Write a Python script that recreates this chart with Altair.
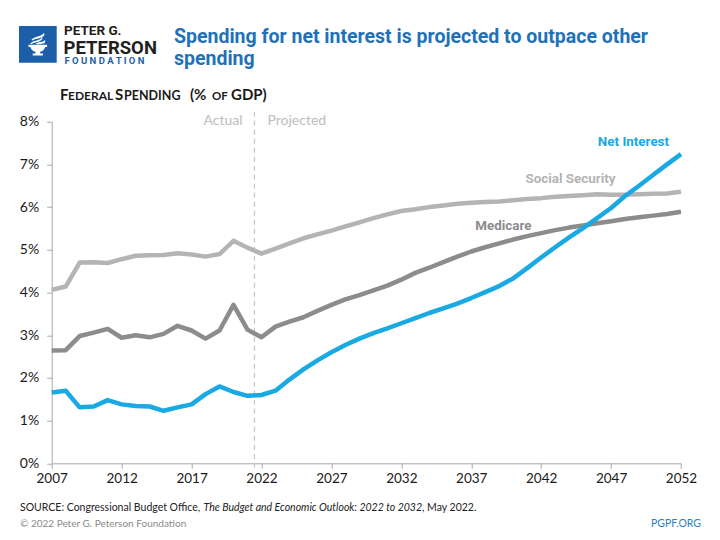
import altair as alt
import pandas as pd

# ---------------- data ----------------
years = list(range(2007, 2053))

social_security = [4.06, 4.14, 4.70, 4.71, 4.69, 4.78, 4.86, 4.87, 4.88, 4.92,
                   4.89, 4.84, 4.90, 5.21, 5.05, 4.91, 5.03, 5.15, 5.27, 5.36,
                   5.45, 5.55, 5.64, 5.74, 5.83, 5.91, 5.95, 6.00, 6.04, 6.08,
                   6.10, 6.12, 6.13, 6.16, 6.19, 6.21, 6.24, 6.26, 6.28, 6.30,
                   6.29, 6.29, 6.30, 6.31, 6.32, 6.36]

medicare = [2.64, 2.65, 2.98, 3.06, 3.15, 2.94, 3.00, 2.95, 3.03, 3.22,
            3.11, 2.92, 3.11, 3.71, 3.13, 2.95, 3.20, 3.32, 3.42, 3.57,
            3.71, 3.84, 3.94, 4.05, 4.16, 4.30, 4.46, 4.58, 4.71, 4.84,
            4.96, 5.06, 5.15, 5.24, 5.32, 5.39, 5.46, 5.52, 5.57, 5.62,
            5.67, 5.72, 5.76, 5.80, 5.84, 5.89]

net_interest = [1.66, 1.70, 1.31, 1.33, 1.48, 1.38, 1.34, 1.33, 1.23, 1.31,
                1.38, 1.62, 1.80, 1.67, 1.58, 1.60, 1.70, 1.96, 2.20, 2.41,
                2.60, 2.77, 2.92, 3.05, 3.16, 3.28, 3.40, 3.52, 3.63, 3.74,
                3.87, 4.01, 4.15, 4.33, 4.57, 4.82, 5.06, 5.29, 5.51, 5.74,
                5.98, 6.26, 6.50, 6.75, 7.00, 7.24]

series_names = ["Social Security", "Medicare", "Net Interest"]
series_colors = ["#b4b4b4", "#8c8c8c", "#19a9e3"]
label_colors = ["#a8a8a8", "#808080", "#19a6df"]

y_ticks = [0, 1, 2, 3, 4, 5, 6, 7, 8]
x_ticks = [2007, 2012, 2017, 2022, 2027, 2032, 2037, 2042, 2047, 2052]

boundary_year = [2021.5]

label_years = [2044.1, 2039.3, 2048.6]
label_values = [6.66, 5.56, 7.52]

# ---------------- frames ----------------
rows = []
for name, vals in zip(series_names, [social_security, medicare, net_interest]):
    for yr, v in zip(years, vals):
        rows.append({"year": yr, "series": name, "value": v})
df = pd.DataFrame(rows)

labels_df = pd.DataFrame({"year": label_years, "value": label_values,
                          "series": series_names})
boundary_df = pd.DataFrame({"year": boundary_year})
one = pd.DataFrame({"k": [0]})

W, H = 629.3, 341.6
OX, OY = 51.7, 121.7  # plot origin on page

BASE_FONT = "Lato"
HEAD_FONT = "Roboto"

x_scale = alt.Scale(domain=[2007, 2052], nice=False, zero=False)
y_scale = alt.Scale(domain=[0, 8], nice=False)
color_scale = alt.Scale(domain=series_names, range=series_colors)

x_enc = alt.X("year:Q", scale=x_scale,
              axis=alt.Axis(values=x_ticks, format="d", title=None, grid=False,
                            labelFontSize=13.5, labelColor="#1a1a1a", labelFont=BASE_FONT,
                            tickSize=5, tickColor="#a8a8a8", domainColor="#a8a8a8",
                            labelPadding=3, labelFlush=False))
y_enc = alt.Y("value:Q", scale=y_scale,
              axis=alt.Axis(values=y_ticks, title=None, grid=False,
                            labelExpr="datum.value + '%'",
                            labelFontSize=14, labelColor="#1a1a1a", labelFont=BASE_FONT,
                            tickSize=5, tickColor="#a8a8a8", domainColor="#a8a8a8",
                            labelPadding=8))

lines = alt.Chart(df).mark_line(strokeWidth=4.5, strokeJoin="round").encode(
    x=x_enc, y=y_enc,
    color=alt.Color("series:N", scale=color_scale, legend=None),
    order=alt.Order("year:Q"),
)

divider = alt.Chart(boundary_df).mark_rule(color="#c4c4c4", strokeWidth=1.2,
                                           strokeDash=[5, 4]).encode(
    x=alt.X("year:Q", scale=x_scale),
    y=alt.value(-10), y2=alt.value(H + 5),
)

actual_txt = alt.Chart(boundary_df).mark_text(
    text="Actual", align="right", baseline="middle", dx=-12, fontSize=14,
    font=BASE_FONT, color="#bdbdbd").encode(
    x=alt.X("year:Q", scale=x_scale), y=alt.value(-1))
proj_txt = alt.Chart(boundary_df).mark_text(
    text="Projected", align="left", baseline="middle", dx=13, fontSize=14,
    font=BASE_FONT, color="#bdbdbd").encode(
    x=alt.X("year:Q", scale=x_scale), y=alt.value(-1))

series_labels = alt.Chart(labels_df).mark_text(
    fontSize=13.4, fontWeight="bold", font=HEAD_FONT, baseline="middle",
    align="center").encode(
    x=alt.X("year:Q", scale=x_scale),
    y=alt.Y("value:Q", scale=y_scale),
    text="series:N",
    color=alt.Color("series:N", scale=alt.Scale(domain=series_names, range=label_colors),
                    legend=None),
)


def txt(s, px, py, size, color="#1a1a1a", weight="normal", font=BASE_FONT,
        align="left", style="normal", baseline="alphabetic"):
    return alt.Chart(one).mark_text(
        text=s, fontSize=size, fontWeight=weight, font=font, color=color,
        align=align, baseline=baseline, fontStyle=style).encode(
        x=alt.value(px - OX), y=alt.value(py - OY))


def glyph(path, px, py, size, color):
    return alt.Chart(one).mark_point(
        shape=path, filled=True, fill=color, opacity=1,
        size=size).encode(x=alt.value(px - OX), y=alt.value(py - OY))


# ---------------- logo ----------------
logo_blue = "#1d5ea9"
logo_box = alt.Chart(one).mark_rect(color=logo_blue).encode(
    x=alt.value(19 - OX), x2=alt.value(56.7 - OX),
    y=alt.value(26 - OY), y2=alt.value(62.7 - OY))

torch_cup = ("M -0.62 0.02 L 0.62 0.02 L 0.62 0.16 L 0.5 0.16 "
             "C 0.42 0.36 0.3 0.46 0.16 0.48 L 0.16 0.6 L 0.34 0.6 L 0.34 0.74 "
             "L -0.34 0.74 L -0.34 0.6 L -0.16 0.6 L -0.16 0.48 "
             "C -0.3 0.46 -0.42 0.36 -0.5 0.16 L -0.62 0.16 Z")
flames = ("M -0.5 -0.06 C -0.3 -0.3 0.1 -0.2 0.3 -0.5 L 0.3 -0.36 "
          "C 0.1 -0.08 -0.3 -0.16 -0.42 -0.02 Z "
          "M -0.42 -0.32 C -0.2 -0.56 0.2 -0.48 0.42 -0.78 L 0.44 -0.62 "
          "C 0.2 -0.36 -0.2 -0.42 -0.36 -0.26 Z "
          "M -0.12 -0.06 C 0.1 -0.2 0.3 -0.12 0.5 -0.3 L 0.48 -0.14 "
          "C 0.3 0.0 0.1 -0.06 -0.04 -0.0 Z")

logo_parts = [
    logo_box,
    glyph(torch_cup, 37.8, 44.5, 900, "white"),
    glyph(flames, 37.8, 44.5, 900, "white"),
    txt("PETER G.", 64, 35, 13.5, color="#231f20", weight="bold", font=HEAD_FONT),
    txt("PETERSON", 63.5, 54, 18.5, color="#231f20", weight="bold", font=HEAD_FONT),
    txt("F O U N D A T I O N", 64.5, 64, 9.5, color=logo_blue, weight="bold",
        font=HEAD_FONT),
]

# ---------------- titles ----------------
title_blue = "#1f71b8"
title_parts = [
    txt("Spending for net interest is projected to outpace other", 174, 43, 19.5,
        color=title_blue, weight="bold", font=HEAD_FONT),
    txt("spending", 174, 65, 19.5, color=title_blue, weight="bold", font=HEAD_FONT),
]

# small-caps subtitle
sub_parts = [
    txt("F", 60, 100, 15, weight="bold"),
    txt("EDERAL", 68, 100, 12, weight="bold"),
    txt("S", 115, 100, 15, weight="bold"),
    txt("PENDING", 124, 100, 12.5, weight="bold"),
    txt("(%", 190, 100, 15, weight="bold"),
    txt("OF", 212, 100, 11.5, weight="bold"),
    txt("GDP)", 231, 100, 15, weight="bold"),
]

# ---------------- footer ----------------
foot_parts = [
    txt("SOURCE: Congressional Budget Office,", 20, 511, 10.5, color="#222222"),
    txt("The Budget and Economic Outlook: 2022 to 2032", 203.5, 511, 10.5,
        color="#222222", style="italic"),
    txt(", May 2022.", 422, 511, 10.5, color="#222222"),
    txt("\u00a9 2022 Peter G. Peterson Foundation", 20, 527, 10, color="#8a8a8a"),
    txt("PGPF.ORG", 701, 527, 10.5, color="#2a7fc4", align="right"),
]

chart = alt.layer(
    divider, actual_txt, proj_txt, lines, series_labels,
    *logo_parts, *title_parts, *sub_parts, *foot_parts,
).properties(
    width=W, height=H,
    padding={"left": OX - 8, "top": OY - 8, "right": 704 - (OX - 8) - W,
             "bottom": 524 - (OY - 8) - H},
    autosize=alt.AutoSizeParams(type="none"),
    background="white",
).configure_view(stroke=None)

chart.save("out.html", embed_options={"renderer": "svg", "actions": False})
